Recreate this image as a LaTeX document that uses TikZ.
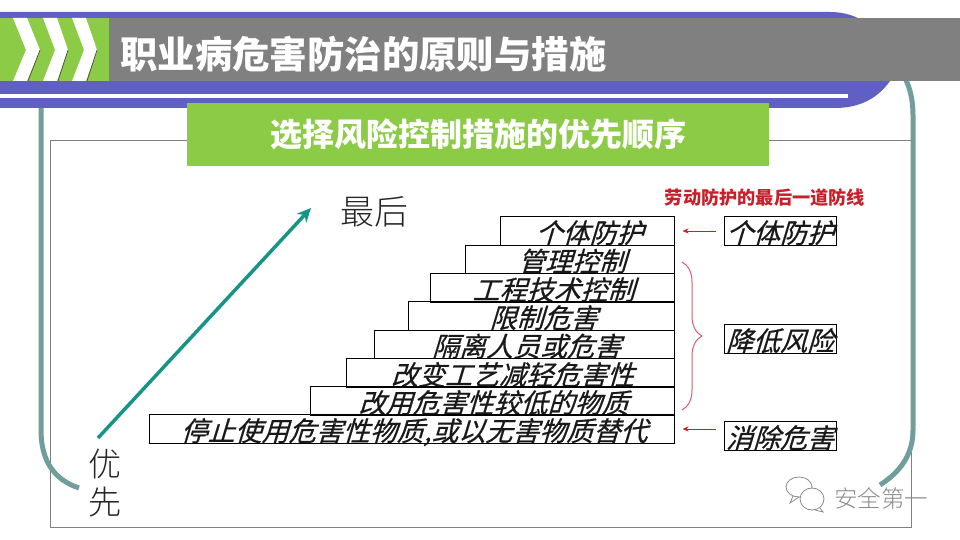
\documentclass[tikz,border=0pt]{standalone}
\usepackage{fontspec}
\usetikzlibrary{arrows.meta,positioning,decorations.pathreplacing}
\newfontfamily\cjk{Noto Sans CJK SC}
\newfontfamily\cjkslant[FakeSlant=0.3,FakeBold=0.6]{Noto Sans CJK SC}
\newfontfamily\cjklight{Noto Sans CJK SC Light}
\definecolor{bannerblue}{HTML}{5F5FC4}
\definecolor{bandgray}{HTML}{808080}
\definecolor{headgreen}{HTML}{8CCB45}
\definecolor{framegreen}{HTML}{6F9E9C}
\definecolor{arrowgreen}{HTML}{169488}
\definecolor{notered}{HTML}{C8202A}
\definecolor{bracepink}{HTML}{D0607A}
\tikzset{
    stepbox/.style={draw=black, line width=1pt, minimum height=28.5pt, inner sep=0pt,
        text height=26pt, text depth=2pt,
        font=\cjkslant\fontsize{27}{28}\selectfont, text=black!90},
    riskbox/.style={stepbox, minimum width=112pt, fill=white},
    redline/.style={draw=notered, line width=1pt, -{Stealth[length=6pt,width=5pt]},
        shorten <=8pt, shorten >=8pt},
}
\begin{document}
\begin{tikzpicture}[x=1pt,y=-1pt]
    \useasboundingbox (0,0) rectangle (960,540);

    %page frame
    \draw[bandgray, line width=1pt] (50,141) rectangle (911,527);
    \draw[framegreen, line width=5pt] (41,108) -- (41,430) .. controls (41,462) and (55,480) .. (79,488);
    \draw[framegreen, line width=5pt] (905,78) .. controls (910,88) and (913,100) .. (913,115)
        -- (913,430) .. controls (913,455) and (900,472) .. (880,485);

    %banner
    \fill[bannerblue] (0,12) -- (830,12) .. controls (860,12) and (880,30) .. (888,50)
        .. controls (895,65) and (895,72) .. (890,81) .. controls (878,98) and (860,108) .. (835,108) -- (0,108) -- cycle;
    \fill[white] (0,94) rectangle (848,98);
    \fill[bandgray] (109,18) rectangle (960,81);
    \fill[headgreen] (0,18) rectangle (109,81);
    \fill[white] (13,18) -- (27,18) -- (40,50) -- (27,81) -- (13,81) -- (26,50) -- cycle;
    \fill[white] (43,18) -- (57,18) -- (68,50) -- (57,81) -- (43,81) -- (55,50) -- cycle;
    \fill[white] (72,18) -- (86,18) -- (97,50) -- (86,81) -- (72,81) -- (84,50) -- cycle;
    \draw[black!70, line width=0.7pt] (28,81) -- (40,50);
    \draw[black!70, line width=0.7pt] (58,81) -- (68,50);
    \draw[black!70, line width=0.7pt] (87,81) -- (97,50);
    \node[anchor=west, inner sep=0pt, text=white, font=\cjk\bfseries\fontsize{37.4}{40}\selectfont] (title) at (120,54) {职业病危害防治的原则与措施};

    \node[fill=headgreen, minimum width=582pt, minimum height=63pt, inner sep=0pt, text=white,
        font=\cjk\bfseries\fontsize{32}{34}\selectfont] (subtitle) at (478,134.5) {选择风险控制措施的优先顺序};

    %arrow
    \coordinate (arrow_start) at (98,438);
    \coordinate (arrow_end) at (311,208);
    \draw[arrowgreen, line width=3.5pt, -{Stealth[length=14pt,width=13pt]}] (arrow_start) -- (arrow_end);
    \node[font=\cjklight\fontsize{34}{36}\selectfont, text=black!85] (last) at (374,212) {最后};
    \node[font=\cjklight\fontsize{33}{35}\selectfont, text=black!85] (first_a) at (105,464) {优};
    \node[font=\cjklight\fontsize{33}{35}\selectfont, text=black!85] (first_b) at (105,502) {先};

    %steps
    \node[stepbox, minimum width=174pt] (step_1) at (587,231) {\hspace{5pt}个体防护};
    \node[stepbox, minimum width=209pt] (step_2) at (569.5,259.5) {\hspace{5pt}管理控制};
    \node[stepbox, minimum width=244pt] (step_3) at (552,288) {\hspace{3pt}工程技术控制};
    \node[stepbox, minimum width=266pt] (step_4) at (541,316) {\hspace{5pt}限制危害};
    \node[stepbox, minimum width=300pt] (step_5) at (524,344.5) {\hspace{5pt}隔离人员或危害};
    \node[stepbox, minimum width=328pt] (step_6) at (510,373) {\hspace{5pt}改变工艺减轻危害性};
    \node[stepbox, minimum width=364pt] (step_7) at (492,401) {\hspace{3pt}改用危害性较低的物质};
    \node[stepbox, minimum width=525pt] (step_8) at (411.5,429) {\hspace{5pt}停止使用危害性物质,或以无害物质替代};

    %right side
    \node[text=notered, font=\cjk\bfseries\fontsize{18.2}{19}\selectfont] (note) at (765,198) {劳动防护的最后一道防线};
    \node[riskbox] (risk_1) at (780,231) {个体防护};
    \node[riskbox] (risk_2) at (780,339) {降低风险};
    \node[riskbox] (risk_3) at (780,436) {消除危害};
    \path[redline] (risk_1.west) -- (risk_1.west -| step_1.east);
    \path[redline] (step_8.east -| risk_3.west) -- (step_8.east);
    \coordinate (brace_top) at (682,262);
    \coordinate (brace_bot) at (682,410);
    \draw[bracepink, line width=1pt, decorate, decoration={brace, amplitude=20pt}] (brace_top) -- (brace_bot);

    %watermark
    \draw[black!45, line width=0.8pt, fill=white] (799,487) ellipse (13pt and 10pt);
    \draw[black!45, line width=0.8pt] (793,496) -- (790,503) -- (799,497);
    \draw[black!45, line width=0.8pt, fill=white] (812,499) ellipse (12pt and 11pt);
    \draw[black!45, line width=0.8pt] (820,508) -- (823,512) -- (815,510);
    \node[text=black!45, font=\cjklight\fontsize{23.5}{25}\selectfont] (mark) at (881,498) {安全第一};
\end{tikzpicture}
\end{document}
